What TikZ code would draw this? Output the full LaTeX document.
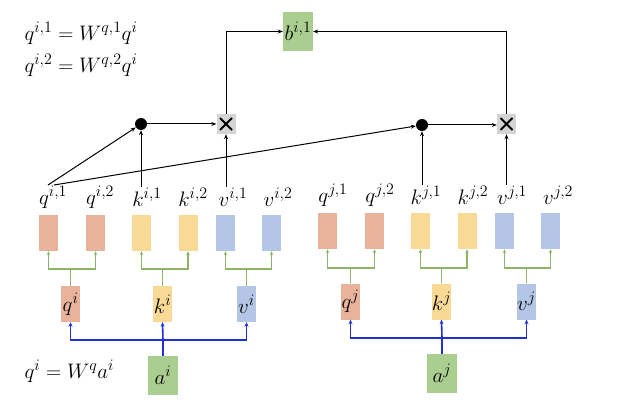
\RequirePackage{fix-cm}
\documentclass[tikz,border=0pt]{standalone}
\usetikzlibrary{arrows.meta,calc}
\DeclareMathSizes{21}{21}{16}{12}
\definecolor{qcol}{HTML}{E9B39B}
\definecolor{kcol}{HTML}{F8D995}
\definecolor{vcol}{HTML}{B3C6E6}
\definecolor{acol}{HTML}{A9CE8F}
\definecolor{xcol}{HTML}{D4D4D4}
\definecolor{gline}{HTML}{8DB56A}
\definecolor{bline}{HTML}{1F32CF}
\begin{document}
\begin{tikzpicture}[x=1pt,y=-1pt,
  every node/.style={font=\fontsize{21}{24}\selectfont},
  vec/.style={minimum width=19pt,minimum height=36pt,inner sep=0pt},
  src/.style={minimum width=30pt,minimum height=39pt,inner sep=0pt,fill=acol},
  lab/.style={inner sep=1pt},
  blk/.style={line width=1pt,-{Stealth[length=5pt,width=4pt]}},
  grn/.style={line width=1.3pt,draw=gline},
  grna/.style={grn,-{Stealth[length=4pt,width=3.5pt]}},
  blu/.style={line width=1.6pt,draw=bline},
  blua/.style={blu,-{Stealth[length=4.5pt,width=4pt]}},
  prod/.style={fill=xcol,minimum width=19pt,minimum height=20pt,inner sep=0pt,
    path picture={\draw[line width=2pt] ([shift={(-6pt,-6pt)}]path picture bounding box.center) -- ([shift={(6pt,6pt)}]path picture bounding box.center);
                  \draw[line width=2pt] ([shift={(-6pt,6pt)}]path picture bounding box.center) -- ([shift={(6pt,-6pt)}]path picture bounding box.center);}},
  dotn/.style={circle,fill=black,minimum size=12pt,inner sep=0pt}]
\useasboundingbox (0,0) rectangle (626,406);
% formulas
\node[anchor=west] (f1) at (21,33) {$q^{i,1}=W^{q,1}q^{i}$};
\node[anchor=west] (f2) at (21,65) {$q^{i,2}=W^{q,2}q^{i}$};
\node[anchor=west] (f3) at (21,371) {$q^{i}=W^{q}a^{i}$};
% left group vectors
\node[vec,fill=qcol] (qi1) at (48.5,233) {};
\node[vec,fill=qcol] (qi2) at (95.5,233) {};
\node[vec,fill=kcol] (ki1) at (141.5,233) {};
\node[vec,fill=kcol] (ki2) at (188,233) {};
\node[vec,fill=vcol] (vi1) at (225.5,233) {};
\node[vec,fill=vcol] (vi2) at (271.5,233) {};
\node[lab] (lqi1) at (53,197) {$q^{i,1}$};
\node[lab] (lqi2) at (100,197) {$q^{i,2}$};
\node[lab] (lki1) at (147,197) {$k^{i,1}$};
\node[lab] (lki2) at (193,197) {$k^{i,2}$};
\node[lab] (lvi1) at (233,197) {$v^{i,1}$};
\node[lab] (lvi2) at (278,197) {$v^{i,2}$};
% right group vectors
\node[vec,fill=qcol] (qj1) at (327.5,231) {};
\node[vec,fill=qcol] (qj2) at (374.5,231) {};
\node[vec,fill=kcol] (kj1) at (420.5,231) {};
\node[vec,fill=kcol] (kj2) at (467,231) {};
\node[vec,fill=vcol] (vj1) at (504.5,231) {};
\node[vec,fill=vcol] (vj2) at (550.5,231) {};
\node[lab] (lqj1) at (333,195) {$q^{j,1}$};
\node[lab] (lqj2) at (380,195) {$q^{j,2}$};
\node[lab] (lkj1) at (426,195) {$k^{j,1}$};
\node[lab] (lkj2) at (473,195) {$k^{j,2}$};
\node[lab] (lvj1) at (512,195) {$v^{j,1}$};
\node[lab] (lvj2) at (558,195) {$v^{j,2}$};
% middle vectors
\node[vec,fill=qcol] (qi) at (70.5,304) {$q^{i}$};
\node[vec,fill=kcol] (ki) at (162.5,304) {$k^{i}$};
\node[vec,fill=vcol] (vi) at (246.5,304) {$v^{i}$};
\node[vec,fill=qcol] (qj) at (350.5,301.5) {$q^{j}$};
\node[vec,fill=kcol] (kj) at (441.5,301.5) {$k^{j}$};
\node[vec,fill=vcol] (vj) at (526.5,301.5) {$v^{j}$};
% inputs
\node[src] (ai) at (163,375.5) {$a^{i}$};
\node[src] (aj) at (442,373.5) {$a^{j}$};
% output
\node[src] (b) at (298,31.5) {$b^{i,1}$};
% dots and products
\node[dotn] (d1) at (141,124) {};
\node[dotn] (d2) at (422,125) {};
\node[prod] (x1) at (226,124) {};
\node[prod] (x2) at (506.5,124) {};
% green splits
\foreach \m/\a/\b in {qi/qi1/qi2,ki/ki1/ki2,vi/vi1/vi2}{
  \coordinate (g\m) at (\m.north |- 0,269);
  \draw[grn] (\m.north) -- (g\m);
  \draw[grna] (g\m) -| (\a.south);
  \draw[grna] (g\m) -| (\b.south);
}
\foreach \m/\a/\b in {qj/qj1/qj2,kj/kj1/kj2,vj/vj1/vj2}{
  \coordinate (g\m) at (\m.north |- 0,268);
  \draw[grn] (\m.north) -- (g\m);
  \draw[grna] (g\m) -| (\a.south);
  \draw[grna] (g\m) -| (\b.south);
}
% blue splits
\coordinate (bi) at (ai.north |- 0,340);
\draw[blu] (ai.north) -- (bi);
\draw[blua] (bi) -| (qi.south);
\draw[blua] (bi) -- (ki.south);
\draw[blua] (bi) -| (vi.south);
\coordinate (bj) at (aj.north |- 0,338);
\draw[blu] (aj.north) -- (bj);
\draw[blua] (bj) -| (qj.south);
\draw[blua] (bj) -- (kj.south);
\draw[blua] (bj) -| (vj.south);
% attention
\coordinate (s1) at (48,185);
\coordinate (s2) at (54,185);
\draw[blk] (s1) -- (d1);
\draw[blk] (s2) -- (d2);
\draw[blk] (d1 |- 0,187) -- (d1);
\draw[blk] (x1 |- 0,187) -- (x1);
\draw[blk] (d1) -- (x1);
\draw[blk] (d2 |- 0,185) -- (d2);
\draw[blk] (x2 |- 0,185) -- (x2);
\draw[blk] (d2) -- (x2.west |- d2);
\draw[blk] (x1.north) |- (b.west);
\draw[blk] (x2.north) |- (b.east);
\end{tikzpicture}
\end{document}
